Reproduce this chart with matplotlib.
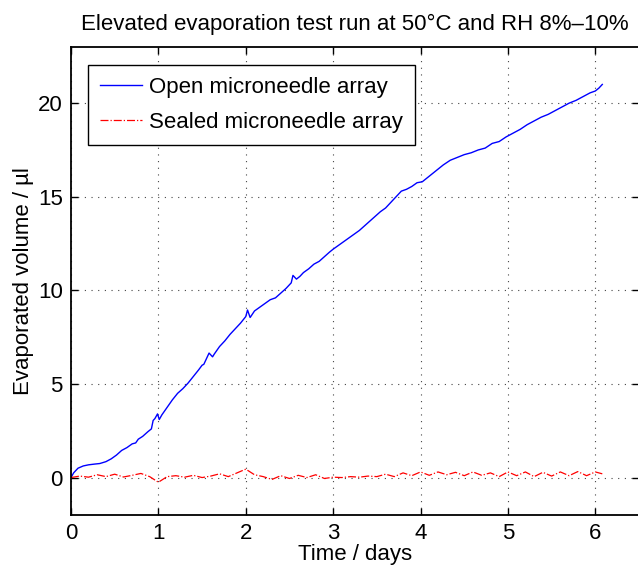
import matplotlib
matplotlib.use("Agg")
import matplotlib.pyplot as plt

plt.rcParams['font.family'] = ['Liberation Sans', 'DejaVu Sans']

# --- data ---
jours_ouvert = [0, 0.03, 0.08, 0.14, 0.2, 0.27, 0.33, 0.4, 0.46, 0.52, 0.58, 0.64,
                0.7, 0.74, 0.77, 0.82, 0.88, 0.92, 0.94, 0.96, 0.99, 1.01, 1.04,
                1.1, 1.16, 1.22, 1.28, 1.34, 1.4, 1.46, 1.5, 1.52, 1.58, 1.62,
                1.64, 1.7, 1.76, 1.82, 1.88, 1.94, 2.0, 2.02, 2.05, 2.1, 2.16,
                2.22, 2.28, 2.34, 2.4, 2.46, 2.52, 2.54, 2.58, 2.62, 2.66, 2.72,
                2.78, 2.84, 2.9, 2.96, 3.0, 3.06, 3.12, 3.18, 3.24, 3.3, 3.36,
                3.42, 3.48, 3.54, 3.6, 3.66, 3.72, 3.78, 3.84, 3.9, 3.96, 4.02,
                4.1, 4.18, 4.26, 4.34, 4.42, 4.5, 4.58, 4.66, 4.74, 4.82, 4.9,
                4.98, 5.06, 5.14, 5.22, 5.3, 5.38, 5.46, 5.54, 5.62, 5.7, 5.78,
                5.86, 5.94, 6.0, 6.04, 6.08]
volume_ouvert = [0, 0.25, 0.5, 0.62, 0.68, 0.72, 0.75, 0.85, 1.0, 1.2, 1.45, 1.6,
                 1.8, 1.85, 2.05, 2.2, 2.45, 2.6, 3.05, 3.15, 3.4, 3.1, 3.35,
                 3.75, 4.15, 4.5, 4.75, 5.05, 5.4, 5.75, 6.0, 6.05, 6.65, 6.45,
                 6.6, 7.0, 7.3, 7.65, 7.95, 8.25, 8.6, 8.95, 8.55, 8.9, 9.1,
                 9.3, 9.5, 9.6, 9.85, 10.1, 10.4, 10.8, 10.6, 10.75, 10.95, 11.15,
                 11.4, 11.55, 11.8, 12.05, 12.2, 12.4, 12.6, 12.8, 13.0, 13.2, 13.45,
                 13.7, 13.95, 14.2, 14.4, 14.7, 15.0, 15.3, 15.4, 15.55, 15.75, 15.8,
                 16.1, 16.4, 16.7, 16.95, 17.1, 17.25, 17.35, 17.5, 17.6, 17.85, 17.95,
                 18.2, 18.4, 18.6, 18.85, 19.05, 19.25, 19.4, 19.6, 19.8, 20.0, 20.15,
                 20.35, 20.55, 20.65, 20.8, 21.0]

jours_scelle = [0.0, 0.1, 0.2, 0.3, 0.4, 0.5, 0.6, 0.7, 0.8, 0.9, 1.0, 1.1, 1.2,
                1.3, 1.4, 1.5, 1.6, 1.7, 1.8, 1.9, 2.0, 2.1, 2.2, 2.3, 2.4, 2.5,
                2.6, 2.7, 2.8, 2.9, 3.0, 3.1, 3.2, 3.3, 3.4, 3.5, 3.6, 3.7, 3.8,
                3.9, 4.0, 4.1, 4.2, 4.3, 4.4, 4.5, 4.6, 4.7, 4.8, 4.9, 5.0, 5.1,
                5.2, 5.3, 5.4, 5.5, 5.6, 5.7, 5.8, 5.9, 6.0, 6.08]
volume_scelle = [0.0, 0.08, 0.02, 0.15, 0.05, 0.18, 0.03, 0.12, 0.22, 0.05, -0.25,
                 0.05, 0.1, 0.02, 0.12, 0.0, 0.08, 0.2, 0.05, 0.25, 0.45, 0.15,
                 0.05, -0.1, 0.1, -0.05, 0.12, 0.0, 0.15, -0.05, 0.02, 0.0, 0.05,
                 0.02, 0.08, 0.05, 0.18, 0.05, 0.25, 0.1, 0.3, 0.12, 0.3, 0.15,
                 0.28, 0.1, 0.3, 0.12, 0.25, 0.05, 0.3, 0.1, 0.3, 0.05, 0.28,
                 0.08, 0.3, 0.1, 0.32, 0.1, 0.3, 0.2]

x_ticks = [0, 1, 2, 3, 4, 5, 6]
y_ticks = [0, 5, 10, 15, 20]

fig = plt.figure(figsize=(6.38, 5.69), dpi=100)
ax = fig.add_axes([71 / 638, 1 - 515 / 569, 568 / 638, 468 / 569])

ax.plot(jours_ouvert, volume_ouvert, color='#0000ff', lw=1.0,
        label="Open microneedle array")
ax.plot(jours_scelle, volume_scelle, color='#ff0000', lw=0.9, linestyle='-.',
        label="Sealed microneedle array")

ax.set_xlim(0, 6.5)
ax.set_ylim(-2, 23)
ax.set_xticks(x_ticks)
ax.set_yticks(y_ticks)
ax.tick_params(direction='in', length=5, labelsize=16, top=True, right=True,
               width=1.0, pad=6)
for s in ax.spines.values():
    s.set_linewidth(1.3)

ax.grid(True, color='#444444', linestyle=(0, (1, 5)), linewidth=0.8)

ax.set_xlabel("Time / days", fontsize=16, labelpad=0)
ax.set_ylabel("Evaporated volume / µl", fontsize=16, labelpad=3)
fig.text(355 / 638, 1 - 24 / 569,
         "Elevated evaporation test run at 50°C and RH 8%–10%",
         ha='center', va='center', fontsize=16)

leg = ax.legend(loc='upper left', bbox_to_anchor=(0.03, 0.962), fontsize=16,
                fancybox=False, framealpha=1, edgecolor='black',
                handlelength=1.9, handletextpad=0.3, labelspacing=0.62,
                borderpad=0.55, borderaxespad=0)
leg.get_frame().set_linewidth(1.0)

fig.savefig("out.png", dpi=100)
